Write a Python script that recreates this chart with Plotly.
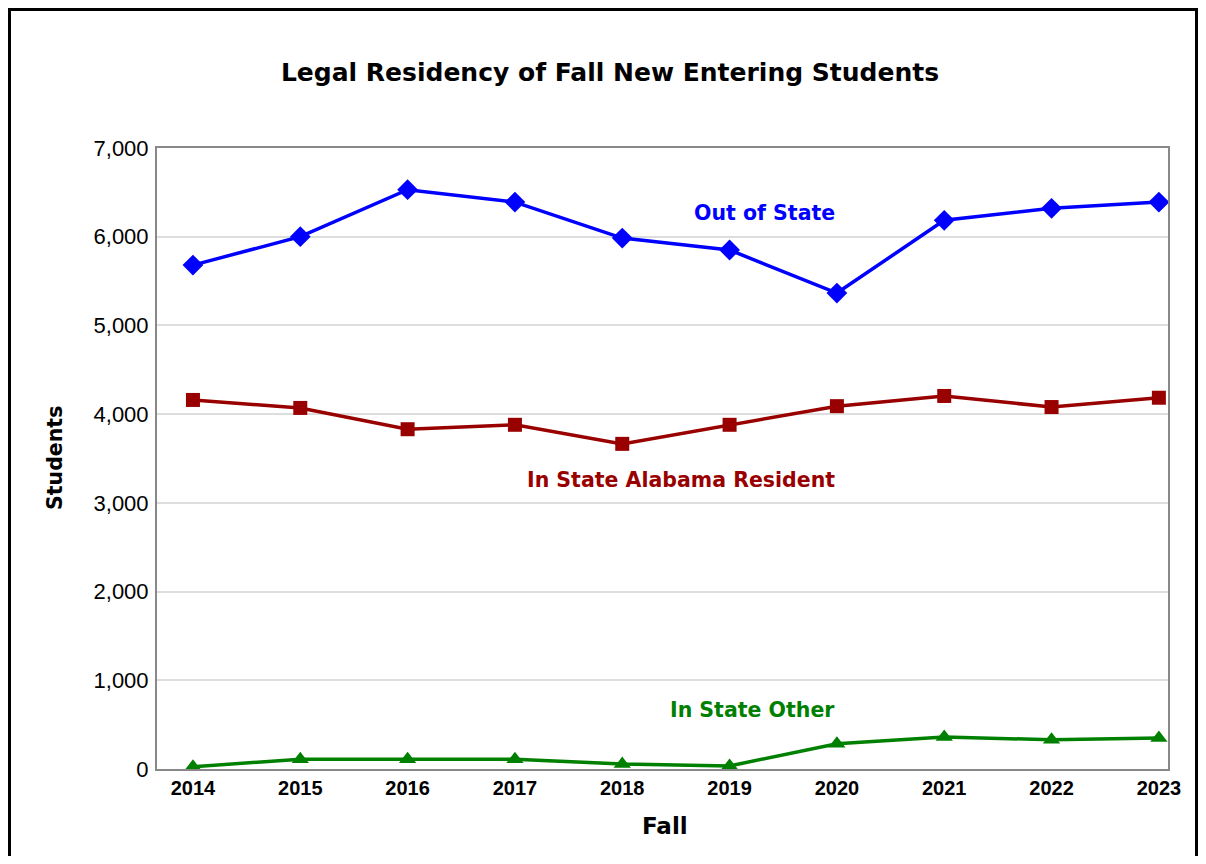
import plotly.graph_objects as go

years = ["2014", "2015", "2016", "2017", "2018", "2019", "2020", "2021", "2022", "2023"]
out_of_state = [5680, 6000, 6530, 6390, 5985, 5850, 5365, 6185, 6320, 6390]
in_state_al = [4160, 4070, 3830, 3880, 3665, 3880, 4090, 4205, 4080, 4185]
in_state_other = [25, 110, 110, 110, 55, 35, 285, 360, 330, 350]
y_ticks = [0, 1000, 2000, 3000, 4000, 5000, 6000, 7000]
y_tick_labels = ["0", "1,000", "2,000", "3,000", "4,000", "5,000", "6,000", "7,000"]

xi = list(range(len(years)))
ARIAL = "Liberation Sans, Arial, sans-serif"
WIDE = "DejaVu Sans, Verdana, sans-serif"

W, H = 1190, 848
L, R, T, B = 149, 30, 140, 87
PW, PH = W - L - R, H - T - B

fig = go.Figure()
fig.add_trace(go.Scatter(x=xi, y=out_of_state, mode="lines+markers", name="Out of State",
                         line=dict(color="#0000FF", width=3.5),
                         marker=dict(symbol="diamond", size=16, color="#0000FF")))
fig.add_trace(go.Scatter(x=xi, y=in_state_al, mode="lines+markers", name="In State Alabama Resident",
                         line=dict(color="#990000", width=3.5),
                         marker=dict(symbol="square", size=14, color="#990000")))
fig.add_trace(go.Scatter(x=xi, y=in_state_other, mode="lines+markers", name="In State Other",
                         line=dict(color="#008000", width=3.5),
                         marker=dict(symbol="triangle-up", size=15, color="#008000")))

fig.add_annotation(x=6.0, y=6268, text="<b>Out of State</b>", showarrow=False, xanchor="right",
                   font=dict(family=WIDE, size=20.5, color="#0000FF"))
fig.add_annotation(x=6.0, y=3258, text="<b>In State Alabama Resident</b>", showarrow=False,
                   xanchor="right", font=dict(family=WIDE, size=20.5, color="#990000"))
fig.add_annotation(x=6.0, y=665, text="<b>In State Other</b>", showarrow=False, xanchor="right",
                   font=dict(family=WIDE, size=20.5, color="#008000"))

# axis titles
fig.add_annotation(xref="paper", yref="paper", x=(657 - L) / PW, y=(H - B - 818) / PH,
                   text="<b>Fall</b>", showarrow=False, xanchor="center", yanchor="middle",
                   font=dict(family=WIDE, size=23, color="black"))
fig.add_annotation(xref="paper", yref="paper", x=(47 - L) / PW, y=(H - B - 450) / PH,
                   text="<b>Students</b>", showarrow=False, textangle=-90,
                   xanchor="center", yanchor="middle",
                   font=dict(family=WIDE, size=20.5, color="black"))

fig.update_layout(
    width=W, height=H,
    margin=dict(l=L, r=R, t=T, b=B, autoexpand=False),
    paper_bgcolor="white", plot_bgcolor="white",
    showlegend=False,
    title=dict(text="<b>Legal Residency of Fall New Entering Students</b>", x=602 / W, xanchor="center",
               y=1 - 64 / H, yanchor="middle",
               font=dict(family=WIDE, size=25, color="black")),
    font=dict(family=ARIAL, color="black"),
    xaxis=dict(range=[-0.335, 9.085], tickvals=xi, ticktext=["<b>%s</b>" % y for y in years],
               tickfont=dict(family=ARIAL, size=20, color="black"), showgrid=False, zeroline=False,
               showline=True, linecolor="#888888", linewidth=2, mirror=True, ticks=""),
    yaxis=dict(range=[0, 7000], tickvals=y_ticks, ticktext=y_tick_labels,
               tickfont=dict(family=ARIAL, size=22, color="black"), showgrid=True, gridcolor="#dddddd",
               gridwidth=2, zeroline=False, showline=True, linecolor="#888888", linewidth=2,
               mirror=True, ticks="", ticklabelstandoff=2),
)

fig.add_shape(type="rect", xref="paper", yref="paper",
              x0=(1.5 - L) / PW, x1=(W - 1.5 - L) / PW, y0=(H - B - H - 20) / PH, y1=(H - B - 1.5) / PH,
              line=dict(color="black", width=3), fillcolor="rgba(0,0,0,0)", layer="below")

fig.write_html("out.html")
